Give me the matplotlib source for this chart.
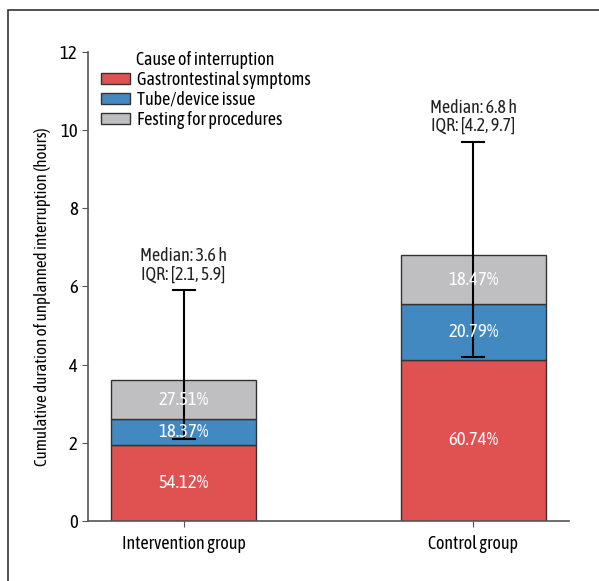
import numpy as np
import matplotlib
matplotlib.use("Agg")
import matplotlib.pyplot as plt
from matplotlib.patches import Rectangle

plt.rcParams['font.family'] = ['Asap Condensed', 'Roboto Condensed', 'Archivo Narrow', 'DejaVu Sans']

# datos
groups = ["Intervention group", "Control group"]
medians = [3.6, 6.8]
iqr_low = [2.1, 4.2]
iqr_high = [5.9, 9.7]
causes = ["Gastrontestinal symptoms", "Tube/device issue", "Festing for procedures"]
pct = [[54.12, 60.74], [18.37, 20.79], [27.51, 18.47]]
colors = ["#E05252", "#4189C0", "#BFBFC1"]

fig = plt.figure(figsize=(5.99, 5.81), dpi=100)
ax = fig.add_axes([0.147, 0.1033, 0.803, 0.8072])

# marco de la figura
fig.patches.append(Rectangle((8/599, -0.1), 1.2, 1 - 10/581 + 0.1, transform=fig.transFigure,
                             fill=False, edgecolor="#333333", lw=1.2))

x = np.arange(len(groups))
bottom = np.zeros(len(groups))
for i in range(len(causes)):
    h = np.array(medians) * np.array(pct[i]) / 100
    ax.bar(x, h, 0.5, bottom=bottom, color=colors[i], edgecolor="#333333", lw=1,
           label=causes[i], zorder=2)
    for j in range(len(groups)):
        ax.text(x[j], bottom[j] + h[j] / 2, f"{pct[i][j]:.2f}%", color="white",
                ha="center", va="center", fontsize=13.5, zorder=5)
    bottom += h

# barras de error (IQR)
for j in range(len(groups)):
    ax.plot([x[j], x[j]], [iqr_low[j], iqr_high[j]], color="black", lw=1.5, zorder=4)
    for yv in (iqr_low[j], iqr_high[j]):
        ax.plot([x[j] - 0.038, x[j] + 0.038], [yv, yv], color="black", lw=1.5, zorder=4)
    ax.text(x[j], iqr_high[j] + 0.18, f"Median: {medians[j]} h\nIQR: [{iqr_low[j]}, {iqr_high[j]}]",
            ha="center", va="bottom", fontsize=13, linespacing=1.0, color="#222222")

ax.set_xlim(-0.33, 1.33)
ax.set_ylim(0, 12)
ax.set_yticks(np.arange(0, 13, 2))
ax.set_xticks(x)
ax.set_xticklabels(groups, fontsize=13)
ax.tick_params(axis="y", labelsize=13.5, color="#555555", length=4)
ax.tick_params(axis="x", color="#555555", length=4, pad=6)
ax.set_ylabel("Cumulative duration of unplanned interruption (hours)", fontsize=12.2)
ax.yaxis.set_label_coords(-0.076, 0.478)
for s in ["top", "right"]:
    ax.spines[s].set_visible(False)
for s in ["left", "bottom"]:
    ax.spines[s].set_color("#555555")
    ax.spines[s].set_linewidth(1.2)

leg = ax.legend(title="Cause of interruption", loc="upper left", bbox_to_anchor=(0.0, 1.03),
                frameon=False, fontsize=13, title_fontsize=13, handlelength=1.6,
                handleheight=0.6, handletextpad=0.4, labelspacing=0.12, borderaxespad=0.3)

fig.savefig("out.png", dpi=100)
